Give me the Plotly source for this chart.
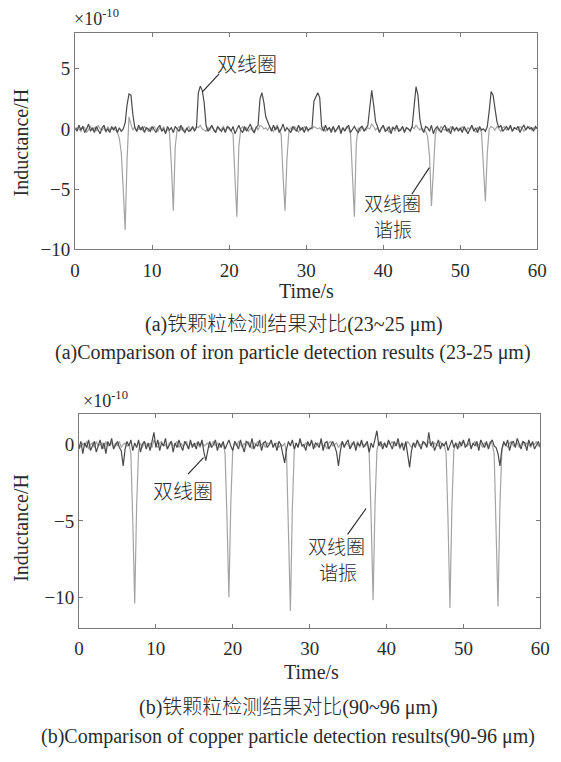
import plotly.graph_objects as go

# ---------------- data (0.25 s sampling) ----------------
step = 0.25
time = [round(i * step, 2) for i in range(241)]

# (a) iron 23~25 um : dual coil (dark) and dual-coil resonance (light), unit 1e-10 H
coil_a = [
    0.1, -0.2, 0.3, -0.1, 0.2, -0.3, 0.0, 0.4, -0.2, 0.1, -0.3, 0.2, -0.1, -0.4, 0.1, 0.3, -0.2, 0.0, -0.3, 0.2,
    -0.1, 0.2, -0.3, 0.1, -0.2, 0.0, 0.5, 2.0, 2.9, 2.8, 1.2, 0.1, -0.2, 0.3, -0.1, 0.2, -0.3, 0.1, 0.0, -0.2,
    0.2, -0.1, -0.3, 0.1, 0.3, -0.2, 0.0, -0.4, 0.2, -0.1, 0.1, -0.3, 0.2, 0.0, -0.2, 0.3, -0.1, -0.3, 0.1, -0.2,
    -0.1, 0.2, -0.2, 0.1, 3.0, 3.55, 3.2, 2.2, 0.3, -0.2, 0.1, 0.3, -0.1, -0.3, 0.2, 0.0, -0.2, 0.1, -0.3, 0.2,
    0.1, -0.2, 0.2, -0.4, 0.0, 0.3, -0.1, -0.3, 0.2, -0.2, 0.1, 0.4, -0.1, -0.3, 0.1, 0.3, 2.5, 3.0, 2.2, 1.0,
    0.6, 0.1, -0.2, 0.3, -0.1, 0.2, -0.3, 0.0, 0.4, -0.2, 0.1, -0.1, -0.3, 0.2, 0.0, -0.2, 0.3, -0.1, 0.1, -0.3,
    0.2, -0.1, 0.0, 0.1, 2.3, 2.6, 3.0, 2.6, 0.2, -0.2, 0.3, -0.1, 0.1, -0.3, 0.2, -0.2, 0.0, 0.3, -0.4, 0.1,
    -0.2, 0.1, 0.3, -0.3, 0.0, 0.2, -0.1, -0.3, 0.1, 0.2, -0.2, 0.0, 0.3, 1.8, 3.2, 2.0, 0.6, 0.2, -0.3, 0.1,
    0.3, -0.2, -0.1, 0.2, -0.4, 0.1, 0.0, 0.3, -0.2, -0.1, 0.2, -0.3, 0.1, 0.0, -0.2, 0.2, 1.6, 3.5, 2.8, 0.8,
    0.0, -0.3, 0.2, 0.1, -0.2, 0.3, -0.4, 0.0, 0.2, -0.1, -0.3, 0.1, 0.3, -0.2, 0.0, -0.4, 0.2, -0.1, 0.1, -0.2,
    0.1, -0.3, 0.2, -0.1, -0.4, 0.0, 0.3, -0.2, 0.1, -0.3, 0.2, -0.1, 0.0, -0.2, 0.2, 1.5, 3.1, 2.8, 1.6, 0.6,
    0.1, 0.3, -0.2, 0.0, 0.2, -0.1, 0.3, -0.2, 0.1, 0.0, 0.2, -0.3, 0.1, 0.3, -0.1, 0.2, 0.0, 0.1, -0.2, 0.2,
    0.0,
]
res_a = [
    -0.1, 0.1, 0.0, -0.2, 0.2, 0.1, -0.3, 0.0, 0.2, -0.1, 0.1, -0.2, 0.3, 0.0, -0.1, 0.1, -0.3, 0.2, -0.1, 0.0,
    0.1, -0.1, -0.3, -0.8, -2.0, -5.0, -8.4, -2.5, 1.0, 0.4, -0.1, 0.2, -0.2, 0.0, 0.1, -0.1, 0.2, 0.0, -0.2, 0.1,
    -0.1, 0.2, 0.0, -0.2, 0.1, -0.1, 0.2, -0.3, 0.0, -0.3, -3.0, -6.8, -1.5, 0.0, 0.2, -0.1, 0.1, -0.2, 0.0, 0.2,
    -0.2, 0.1, 0.0, 0.2, 0.1, 0.3, 0.0, -0.1, -0.2, 0.1, -0.1, 0.2, 0.0, -0.2, 0.1, -0.1, 0.0, 0.2, -0.2, 0.1,
    0.0, -0.2, -0.4, -4.0, -7.3, -1.5, 0.0, 0.2, -0.1, 0.1, -0.2, 0.0, 0.1, -0.3, 0.2, -0.1, 0.3, 0.2, 0.0, 0.1,
    -0.1, 0.2, 0.0, -0.2, 0.1, 0.3, -0.1, -0.5, -4.0, -6.8, -2.5, -0.2, 0.1, -0.1, 0.2, 0.0, -0.3, 0.1, -0.1, 0.2,
    0.0, -0.2, 0.1, 0.0, 0.2, 0.1, 0.0, 0.1, -0.1, 0.2, -0.2, 0.0, 0.1, -0.1, 0.2, -0.3, 0.0, 0.1, -0.2, 0.1,
    -0.1, 0.2, 0.0, -0.4, -3.5, -7.3, -1.2, 0.1, -0.2, 0.2, 0.0, -0.1, 0.1, 0.0, 0.4, 0.2, -0.1, 0.1, -0.2, 0.0,
    0.2, -0.1, 0.1, -0.3, 0.0, 0.2, -0.2, 0.1, 0.0, -0.1, 0.2, -0.2, 0.1, 0.0, -0.1, 0.2, 0.0, 0.3, 0.1, -0.1,
    0.1, -0.1, -0.2, -0.6, -2.2, -6.4, -3.5, -0.5, 0.1, -0.2, 0.2, 0.0, -0.1, 0.1, -0.3, 0.2, 0.0, -0.2, 0.1, 0.0,
    -0.1, 0.2, 0.0, -0.2, 0.1, -0.1, 0.2, 0.0, -0.3, 0.1, 0.0, -0.3, -3.0, -6.0, -2.0, 0.0, 0.2, 0.1, -0.1, 0.2,
    0.0, -0.2, 0.1, 0.2, -0.1, 0.0, 0.2, -0.2, 0.1, 0.0, -0.1, 0.2, 0.1, -0.2, 0.0, 0.1, 0.2, -0.1, 0.1, 0.0,
    0.1,
]

# (b) 90~96 um
coil_b = [
    -0.3, 0.2, -0.6, 0.1, -0.2, 0.3, -0.4, -0.1, 0.2, -0.5, 0.0, 0.3, -0.3, 0.1, -0.6, 0.2, -0.1, 0.4, -0.3, 0.0,
    0.2, -0.2, -0.4, -1.4, -0.3, 0.2, -0.1, 0.3, -0.4, 0.1, -0.2, 0.3, -0.5, 0.0, 0.2, -0.3, 0.1, -0.4, 0.2, 0.8,
    -0.2, 0.3, -0.4, 0.1, -0.1, 0.4, -0.3, 0.0, 0.2, -0.5, 0.1, -0.2, 0.3, -0.1, -0.4, 0.2, 0.0, -0.3, 0.3, -0.2,
    0.1, -0.3, 0.2, -0.1, 0.3, -0.5, -1.05, -0.4, 0.2, -0.2, 0.0, 0.3, -0.4, 0.1, -0.2, 0.2, -0.3, 0.0, 0.3, -0.1,
    -0.4, 0.2, 0.0, -0.3, 0.3, -0.1, -0.5, 0.2, 0.1, -0.2, 0.4, -0.3, 0.0, -0.1, 0.3, -0.4, 0.1, 0.2, -0.2, 0.0,
    0.3, -0.2, 0.1, -0.4, 0.2, 0.0, -0.5, -1.2, -0.3, 0.2, -0.1, 0.3, -0.3, 0.1, -0.2, 0.4, -0.1, 0.0, -0.4, 0.2,
    -0.1, 0.3, -0.3, 0.1, 0.0, -0.2, 0.4, -0.4, 0.1, 0.2, -0.3, 0.0, 0.2, -0.1, -0.5, -1.4, -0.4, 0.2, -0.2, 0.1,
    0.3, -0.3, 0.0, 0.2, -0.4, 0.1, -0.1, 0.3, -0.2, 0.0, 0.2, -0.5, 0.1, -0.2, 0.3, 0.9, -0.1, 0.2, -0.3, 0.1,
    -0.2, 0.3, 0.0, -0.3, 0.2, -0.1, 0.4, -0.2, 0.1, -0.4, 0.2, -0.6, -1.5, -0.4, 0.1, -0.2, 0.3, 0.0, -0.3, 0.2,
    0.1, -0.2, 0.8, -0.1, 0.2, -0.4, 0.0, 0.3, -0.3, 0.1, -0.1, 0.2, -0.4, 0.0, 0.3, -0.2, 0.1, -0.3, 0.2, -0.1,
    0.3, -0.2, 0.0, 0.4, -0.3, 0.1, -0.1, 0.2, -0.4, 0.3, 0.0, -0.2, 0.2, -0.3, 0.1, 0.3, -0.1, -0.2, -0.6, -1.4,
    -0.3, 0.2, -0.1, 0.3, -0.4, 0.1, 0.2, -0.2, 0.4, 0.0, -0.3, 0.2, 0.1, -0.4, 0.3, -0.1, 0.2, -0.3, 0.0, 0.2,
    -0.2,
]
res_b = [
    0.0, -0.2, 0.1, -0.1, 0.2, -0.3, 0.0, 0.1, -0.2, 0.2, -0.1, 0.0, 0.1, -0.3, 0.2, -0.1, 0.0, 0.1, -0.2, 0.1,
    -0.1, 0.2, -0.2, 0.0, 0.1, -0.1, 0.0, -0.6, -5.0, -10.4, -4.0, -0.4, 0.1, -0.2, 0.2, 0.0, -0.1, 0.1, -0.2, 0.3,
    0.0, -0.2, 0.1, 0.2, -0.1, 0.0, -0.3, 0.1, 0.2, -0.1, 0.0, 0.2, -0.2, 0.1, -0.1, 0.0, 0.2, -0.3, 0.1, 0.0,
    -0.1, 0.1, 0.0, -0.2, 0.2, -0.1, 0.0, 0.1, -0.2, 0.0, 0.2, -0.1, 0.1, -0.2, 0.0, 0.1, -0.6, -4.8, -10.0, -3.8,
    -0.4, 0.1, -0.1, 0.2, 0.0, -0.2, 0.1, -0.1, 0.2, 0.0, -0.3, 0.1, 0.0, 0.2, -0.1, 0.0, 0.1, -0.2, 0.1, 0.0,
    0.2, -0.1, 0.0, 0.1, -0.2, 0.0, -0.1, 0.1, -0.7, -5.2, -10.9, -4.2, -0.4, 0.1, -0.1, 0.2, 0.0, -0.2, 0.1, 0.0,
    -0.1, 0.2, 0.0, -0.2, 0.1, 0.0, 0.2, -0.1, 0.0, -0.3, 0.1, 0.2, -0.1, 0.0, 0.1, -0.2, 0.0, 0.2, -0.1, 0.1,
    0.0, -0.2, 0.1, 0.0, -0.1, 0.2, -0.2, 0.1, 0.0, -0.1, 0.1, -0.6, -4.8, -10.2, -4.0, -0.4, 0.2, -0.1, 0.0, 0.1,
    -0.2, 0.1, 0.0, 0.2, -0.1, 0.0, 0.1, -0.3, 0.1, 0.0, -0.1, 0.2, 0.0, -0.2, 0.1, 0.0, 0.2, -0.1, 0.0, 0.1,
    0.0, -0.1, 0.2, 0.0, -0.2, 0.1, 0.0, -0.1, 0.2, -0.1, 0.0, -0.6, -5.0, -10.7, -4.2, -0.4, 0.1, 0.0, -0.2, 0.1,
    0.2, 0.0, -0.1, 0.1, -0.2, 0.0, 0.2, -0.1, 0.0, 0.1, -0.2, 0.1, 0.0, -0.1, 0.2, 0.0, -0.6, -5.0, -10.6, -4.0,
    -0.4, 0.1, 0.0, -0.2, 0.1, 0.2, -0.1, 0.0, 0.1, -0.2, 0.0, 0.2, -0.1, 0.1, 0.0, -0.2, 0.1, 0.0, 0.2, -0.1,
    0.0,
]

x_ticks = [0, 10, 20, 30, 40, 50, 60]
y_ticks_a = [-10, -5, 0, 5]
y_ticks_b = [-10, -5, 0]

label_coil = "双线圈"
label_res = ["双线圈", "谐振"]
captions_a = ["(a)铁颗粒检测结果对比(23~25 μm)",
              "(a)Comparison of iron particle detection results (23-25 μm)"]
captions_b = ["(b)铁颗粒检测结果对比(90~96 μm)",
              "(b)Comparison of copper particle detection results(90-96 μm)"]

for arr in (coil_a, res_a, coil_b, res_b):
    assert len(arr) == len(time), len(arr)

# ---------------- figure ----------------
W, H = 561, 762
def px(x, y):
    return x / W, 1 - y / H

DARK = "#4a4a4a"
LIGHT = "#a3a3a3"
AX = "#7a7a7a"
TXT = "#2b2b2b"
SERIF = "Liberation Serif, Times New Roman, serif"
CJK = "Liberation Serif, Noto Sans CJK SC, serif"

fig = go.Figure()
fig.add_trace(go.Scatter(x=time, y=res_a, mode="lines", line=dict(color=LIGHT, width=1.2),
                         xaxis="x", yaxis="y", showlegend=False, hoverinfo="skip"))
fig.add_trace(go.Scatter(x=time, y=coil_a, mode="lines", line=dict(color=DARK, width=1.2),
                         xaxis="x", yaxis="y", showlegend=False, hoverinfo="skip"))
fig.add_trace(go.Scatter(x=time, y=res_b, mode="lines", line=dict(color=LIGHT, width=1.2),
                         xaxis="x2", yaxis="y2", showlegend=False, hoverinfo="skip"))
fig.add_trace(go.Scatter(x=time, y=coil_b, mode="lines", line=dict(color=DARK, width=1.2),
                         xaxis="x2", yaxis="y2", showlegend=False, hoverinfo="skip"))

common = dict(showline=True, linecolor=AX, linewidth=1, mirror="ticks", ticks="inside",
              ticklen=4, tickwidth=1, tickcolor=AX, showgrid=False, zeroline=False,
              tickfont=dict(family=SERIF, size=19, color=TXT))

fig.update_layout(
    width=W, height=H, margin=dict(l=0, r=0, t=0, b=0),
    paper_bgcolor="white", plot_bgcolor="white",
    xaxis=dict(domain=[72 / W, 547 / W], range=[0, 60], tickvals=x_ticks, anchor="y",
               ticklabelstandoff=4, **common),
    yaxis=dict(domain=[1 - 253 / H, 1 - 33 / H], range=[-10, 8], tickvals=y_ticks_a, anchor="x", **common),
    xaxis2=dict(domain=[76 / W, 550 / W], range=[0, 60], tickvals=x_ticks, anchor="y2",
                ticklabelstandoff=3, **common),
    yaxis2=dict(domain=[1 - 637 / H, 1 - 420 / H], range=[-12, 2], tickvals=y_ticks_b, anchor="x2", **common),
)

ann = []
def paper_text(text, x, y, size=20, family=CJK, angle=0, xanchor="center", weight=None):
    xx, yy = px(x, y)
    f = dict(family=family, size=size, color=TXT)
    if weight:
        f["weight"] = weight
    ann.append(dict(text=text, x=xx, y=yy, xref="paper", yref="paper", showarrow=False,
                    xanchor=xanchor, yanchor="middle", textangle=angle, font=f))

# exponent labels
paper_text("×10<sup>-10</sup>", 69, 18, size=18, family=SERIF, xanchor="left")
paper_text("×10<sup>-10</sup>", 78, 405, size=18, family=SERIF, xanchor="left")
# axis titles
paper_text("Inductance/H", 16, 145, size=20, family=SERIF, angle=-90)
paper_text("Inductance/H", 17, 536, size=20, family=SERIF, angle=-90)
paper_text("Time/s", 310, 295, size=20, family=SERIF)
paper_text("Time/s", 315, 682, size=20, family=SERIF)
# captions
paper_text(captions_a[0], 297, 329, size=20, weight=300)
paper_text(captions_a[1], 296, 358, size=20)
paper_text(captions_b[0], 291, 718, size=20, weight=300)
paper_text(captions_b[1], 291, 747, size=20)

def data_text(text, x, y, xr, yr, size=20):
    ann.append(dict(text=text, x=x, y=y, xref=xr, yref=yr, showarrow=False,
                    xanchor="center", yanchor="middle",
                    font=dict(family="Noto Sans CJK SC", size=size, color=TXT, weight=300)))

data_text(label_coil, 22.36, 5.39, "x", "y")
# top: lines centred at y=205 px and y=231 px
data_text(label_res[0], 41.21, -6.1, "x", "y", size=19)
data_text(label_res[1], 41.3, -8.23, "x", "y", size=19)
data_text(label_coil, 13.54, -2.99, "x2", "y2")
# bottom: lines centred at y=555 px and y=589 px
data_text(label_res[0], 33.52, -6.62, "x2", "y2", size=19)
data_text(label_res[1], 33.63, -8.3, "x2", "y2", size=19)
fig.update_layout(annotations=ann)

leaders = [
    ("x", "y", 18.7, 4.56, 16.55, 3.09),
    ("x", "y", 43.7, -5.43, 45.98, -3.22),
    ("x2", "y2", 14.18, -1.94, 16.2, -0.86),
    ("x2", "y2", 34.94, -5.89, 37.34, -4.19),
]
for xr, yr, x0, y0, x1, y1 in leaders:
    fig.add_shape(type="line", xref=xr, yref=yr, x0=x0, y0=y0, x1=x1, y1=y1,
                  line=dict(color=TXT, width=1.2))

fig.write_html("out.html")
